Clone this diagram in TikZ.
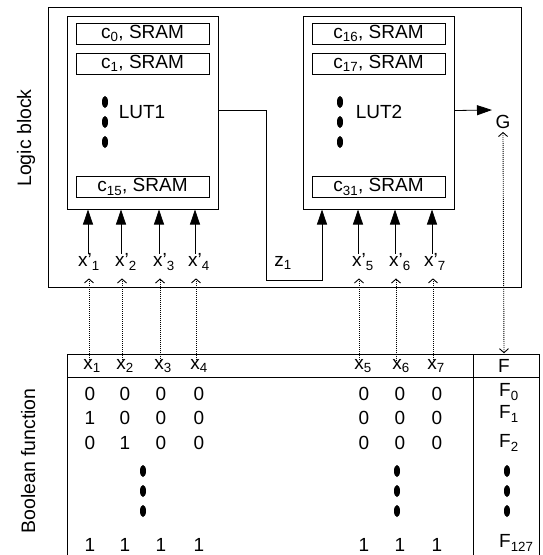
\documentclass[tikz,border=0pt]{standalone}
\usepackage{fontspec}
\setmainfont{Liberation Sans}
\usetikzlibrary{arrows.meta,shapes.geometric}
\newcommand{\lblfont}{\fontsize{19}{22}\selectfont}
\newcommand{\pr}{{\char"27}}
\begin{document}
\begin{tikzpicture}[x=1pt,y=-1pt,
  frame/.style={draw, line width=1pt},
  lut/.style={draw, line width=1pt, minimum width=151pt, minimum height=193pt, inner sep=0pt},
  sram/.style={draw, line width=1pt, minimum width=133pt, minimum height=21pt, inner sep=0pt, font=\lblfont},
  lbl/.style={font=\lblfont, inner sep=0pt},
  side/.style={font=\fontsize{19.5}{22}\selectfont, rotate=90, anchor=base, inner sep=0pt},
  vdot/.style={ellipse, fill=black, minimum width=6pt, minimum height=12pt, inner sep=0pt},
  sig/.style={line width=0.8pt, -{Triangle[length=15pt,width=10pt]}},
  dotline/.style={line width=0.9pt, dash pattern=on 1pt off 1pt},
  link/.style={dotline, {Straight Barb[length=4pt,width=9pt]}-},
  linkboth/.style={dotline, {Straight Barb[length=4pt,width=9pt]}-{Straight Barb[length=4pt,width=9pt]}}]
\useasboundingbox (0,0) rectangle (542,555);

% logic block frame and side captions
\draw[frame] (48,7) rectangle (521,287);
\node[side] (lbcap) at (31,138) {Logic block};
\node[side] (bfcap) at (35,461) {Boolean function};

% the two lookup tables
\node[lut] (lut1) at (142.5,112.5) {};
\node[lut] (lut2) at (379,112.5) {};
\node[sram] (s0)  at (142.5,33.5) {c\textsubscript{0}, SRAM};
\node[sram] (s1)  at (142.5,63.5) {c\textsubscript{1}, SRAM};
\node[sram] (s15) at (142.5,187)  {c\textsubscript{15}, SRAM};
\node[sram] (s16) at (378.5,33.5) {c\textsubscript{16}, SRAM};
\node[sram] (s17) at (378.5,63.5) {c\textsubscript{17}, SRAM};
\node[sram] (s31) at (378.5,187)  {c\textsubscript{31}, SRAM};
\node[lbl] (l1) at (142,112) {LUT1};
\node[lbl] (l2) at (379,112) {LUT2};
\foreach \y [count=\k] in {102,122,142} {
  \node[vdot] (da\k) at (105,\y) {};
  \node[vdot] (db\k) at (340,\y) {};
}

% inputs of LUT1 and LUT2
\foreach \i/\lx in {1/89, 2/126, 3/164, 4/199, 5/363, 6/400, 7/435} {
  \node[lbl] (xp\i) at (\lx,262) {x\pr\textsubscript{\i}};
}
\foreach \i/\ax in {1/88, 2/121, 3/159, 4/195} {
  \draw[sig] (xp\i.north -| \ax,0) -- (lut1.south -| \ax,0);
}
\foreach \i/\ax in {5/358, 6/395, 7/432} {
  \draw[sig] (xp\i.north -| \ax,0) -- (lut2.south -| \ax,0);
}

% LUT1 output z1 feeds LUT2
\node[lbl] (z1) at (283,263) {z\textsubscript{1}};
\draw[sig] ([yshift=2pt]lut1.east) -| (266,280) -| (lut2.south -| 322,0);

% LUT2 output G
\node[lbl] (G) at (503,122) {G};
\coordinate (gin) at (492,110);
\draw[sig] ([yshift=2pt]lut2.east) -- (gin);

% truth table
\draw[frame] (67,560) |- (539,354) -- (539,560);
\draw[frame] (67,377) -- (539,377);
\draw[frame] (473,354) -- (473,560);
\foreach \i/\hx in {1/92, 2/125, 3/163, 4/199, 5/363, 6/401, 7/436} {
  \node[lbl] (h\i) at (\hx,366) {x\textsubscript{\i}};
}
\node[lbl] (hF) at (504,366) {F};

% dotted correspondences between block and table
\foreach \i/\dx in {1/89, 2/122, 3/160, 4/196, 5/359, 6/396, 7/433} {
  \draw[link] ([yshift=-8pt]xp\i.south -| \dx,0) -- ([yshift=-1pt]h\i.north -| \dx,0);
}
\draw[linkboth] ([yshift=-3pt]G.south) -- ([yshift=6pt]hF.north);

% table rows
\foreach \r/\y/\va/\vb/\vc/\vd/\ve/\vf/\vg in {a/394/0/0/0/0/0/0/0, b/418/1/0/0/0/0/0/0, c/443/0/1/0/0/0/0/0, z/545/1/1/1/1/1/1/1} {
  \node[lbl] (\r1) at (90,\y)  {\va};
  \node[lbl] (\r2) at (125,\y) {\vb};
  \node[lbl] (\r3) at (161,\y) {\vc};
  \node[lbl] (\r4) at (199,\y) {\vd};
  \node[lbl] (\r5) at (364,\y) {\ve};
  \node[lbl] (\r6) at (400,\y) {\vf};
  \node[lbl] (\r7) at (437,\y) {\vg};
}
\node[lbl, anchor=west] (F0) at (499,392) {F\textsubscript{0}};
\node[lbl, anchor=west] (F1) at (499,414) {F\textsubscript{1}};
\node[lbl, anchor=west] (F2) at (499,443) {F\textsubscript{2}};
\node[lbl, anchor=west] (F127) at (499,543) {F\textsubscript{127}};
\foreach \y [count=\k] in {471,491,511} {
  \node[vdot] (ta\k) at (143,\y) {};
  \node[vdot] (tb\k) at (397,\y) {};
  \node[vdot] (tc\k) at (507,\y) {};
}
\end{tikzpicture}
\end{document}
